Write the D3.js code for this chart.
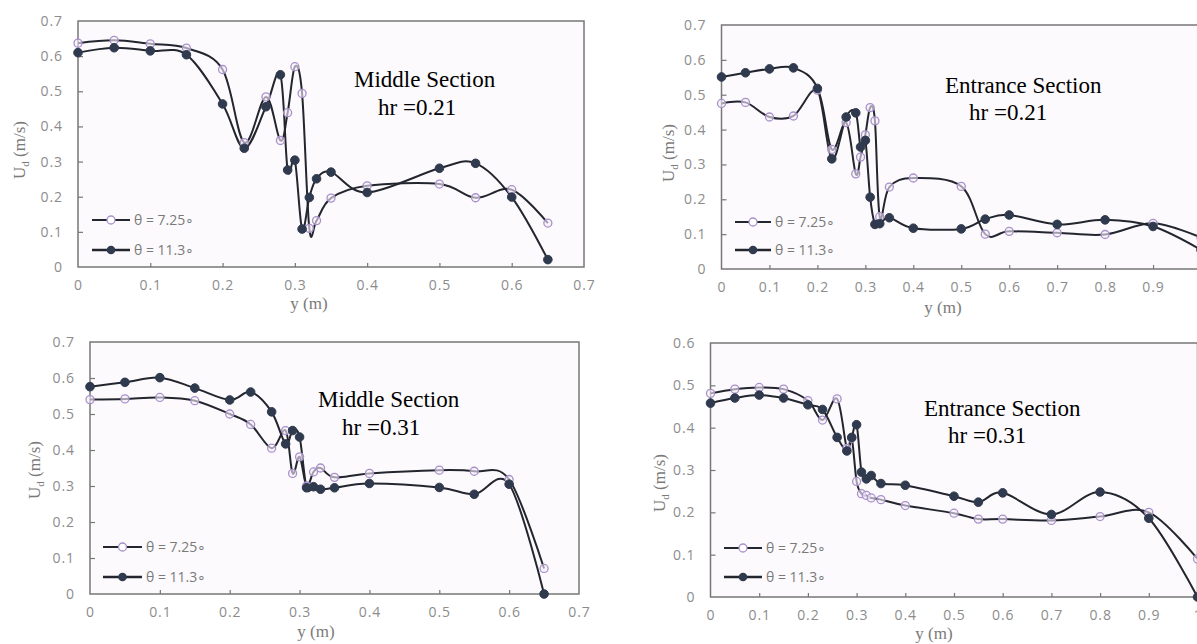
<!DOCTYPE html>
<html><head><meta charset="utf-8">
<script src="https://cdn.jsdelivr.net/npm/d3@7"></script>
<style>
html,body{margin:0;padding:0;background:#fff;overflow:hidden;}
svg{display:block;}
</style></head>
<body><svg id="c" width="1197" height="644"></svg>
<script>
// ---------- data ----------
const xMiddle = [0,0.05,0.1,0.15,0.2,0.23,0.26,0.28,0.29,0.3,0.31,0.32,0.33,0.35,0.4,0.5,0.55,0.6,0.65];
const xEntrance = [0,0.05,0.1,0.15,0.2,0.23,0.26,0.28,0.29,0.3,0.31,0.32,0.33,0.35,0.4,0.5,0.55,0.6,0.7,0.8,0.9,1.0];

const midHr021_725 = [0.637,0.645,0.635,0.623,0.562,0.354,0.484,0.36,0.439,0.57,0.494,0.11,0.132,0.196,0.231,0.236,0.197,0.22,0.125];
const midHr021_113 = [0.61,0.624,0.615,0.604,0.464,0.338,0.456,0.547,0.276,0.304,0.108,0.198,0.251,0.27,0.212,0.281,0.295,0.199,0.021];

const entHr021_725 = [0.475,0.478,0.436,0.439,0.513,0.343,0.42,0.273,0.321,0.385,0.463,0.425,0.15,0.235,0.261,0.237,0.1,0.108,0.104,0.099,0.131,0.09];
const entHr021_113 = [0.551,0.563,0.574,0.577,0.518,0.316,0.436,0.448,0.35,0.369,0.206,0.128,0.13,0.147,0.117,0.115,0.143,0.155,0.128,0.141,0.122,0.055];

const midHr031_725 = [0.54,0.542,0.546,0.537,0.5,0.471,0.405,0.454,0.335,0.381,0.3,0.339,0.35,0.324,0.335,0.344,0.341,0.318,0.071];
const midHr031_113 = [0.576,0.588,0.601,0.572,0.539,0.561,0.506,0.417,0.454,0.436,0.295,0.298,0.291,0.295,0.307,0.296,0.277,0.305,0.0];

const entHr031_725 = [0.481,0.491,0.495,0.491,0.464,0.418,0.468,0.351,0.375,0.273,0.244,0.24,0.234,0.23,0.216,0.198,0.184,0.184,0.181,0.19,0.2,0.09];
const entHr031_113 = [0.458,0.47,0.477,0.47,0.454,0.443,0.377,0.345,0.377,0.407,0.295,0.279,0.287,0.268,0.264,0.238,0.224,0.246,0.195,0.248,0.186,0.0];

const seriesNames = ["\u03b8 = 7.25\u2218", "\u03b8 = 11.3\u2218"];
const xTicksMiddle = [0,0.1,0.2,0.3,0.4,0.5,0.6,0.7];
const xTicksEntrance = [0,0.1,0.2,0.3,0.4,0.5,0.6,0.7,0.8,0.9,1];
const yTicks07 = [0,0.1,0.2,0.3,0.4,0.5,0.6,0.7];
const yTicks06 = [0,0.1,0.2,0.3,0.4,0.5,0.6];
const titles = [["Middle Section","hr =0.21"],["Entrance Section","hr =0.21"],["Middle Section","hr =0.31"],["Entrance Section","hr =0.31"]];

// ---------- layout ----------
const panels = [
  {x:xMiddle, a:midHr021_725, b:midHr021_113, xt:xTicksMiddle, yt:yTicks07, xmax:0.7, ymax:0.7,
   L:78, R:584, T:21, B:267, title:titles[0], tx:354, ty:[87,115], xtl:[309,304], ytl:[19,150],
   leg:{x1:92,x2:130,y:[220,250]}},
  {x:xEntrance, a:entHr021_725, b:entHr021_113, xt:xTicksEntrance, yt:yTicks07, xmax:1.0, ymax:0.7,
   L:721.5, R:1201, T:25, B:269, title:titles[1], tx:945, ty:[93,120], xtl:[943,308], ytl:[668,153],
   leg:{x1:735,x2:771,y:[222,250]}},
  {x:xMiddle, a:midHr031_725, b:midHr031_113, xt:xTicksMiddle, yt:yTicks07, xmax:0.7, ymax:0.7,
   L:90, R:579, T:342, B:594, title:titles[2], tx:318, ty:[407,435], xtl:[316,632], ytl:[34,470],
   leg:{x1:103,x2:142,y:[547,577]}},
  {x:xEntrance, a:entHr031_725, b:entHr031_113, xt:xTicksEntrance, yt:yTicks06, xmax:1.0, ymax:0.6,
   L:710.5, R:1197.5, T:343, B:597, title:titles[3], tx:924, ty:[416,443], xtl:[934,634], ytl:[659,483],
   leg:{x1:724,x2:762,y:[548,577]}}
];

const svg = d3.select("#c");
const fmt = d => d === 0 ? "0" : (d === 1 ? "1" : d3.format(".1f")(d));
const hollowStroke = "#a890cc", lineCol = "#23262e", filledCol = "#2f3a4e";
const tickCol = "#8c8c8c";
const serif = "'Liberation Serif', 'Times New Roman', serif";
const sans = "'Open Sans', sans-serif";

panels.forEach(p => {
  const xs = d3.scaleLinear().domain([0, p.xmax]).range([p.L, p.R]);
  const ys = d3.scaleLinear().domain([0, p.ymax]).range([p.B, p.T]);
  const g = svg.append("g");

  g.append("rect").attr("x", p.L).attr("y", p.T).attr("width", p.R - p.L).attr("height", p.B - p.T)
    .attr("fill", "#fcfafc").attr("stroke", "#777").attr("stroke-width", 1.5);

  const xAxis = d3.axisBottom(xs).tickValues(p.xt).tickSize(-4).tickFormat(fmt).tickPadding(13);
  const gx = g.append("g").attr("transform", `translate(0,${p.B})`).call(xAxis);
  const yAxis = d3.axisLeft(ys).tickValues(p.yt).tickSize(-5).tickFormat(fmt).tickPadding(15);
  const gy = g.append("g").attr("transform", `translate(${p.L},0)`).call(yAxis);
  [gx, gy].forEach(a => {
    a.select(".domain").remove();
    a.selectAll(".tick line").attr("stroke", "#777").attr("stroke-width", 1.2);
    a.selectAll(".tick text").attr("fill", tickCol).attr("font-family", sans)
      .attr("font-size", 14).attr("letter-spacing", "0.9px");
  });
  gy.selectAll(".tick").filter(d => d === p.ymax || d === 0).select("line").remove();
  gx.selectAll(".tick").filter(d => d === 0 || d === p.xmax).select("line").remove();

  // axis titles
  g.append("text").attr("x", p.xtl[0]).attr("y", p.xtl[1] + 5).attr("text-anchor", "middle")
    .attr("font-family", serif).attr("font-size", 17).attr("fill", "#7a7a7a").text("y (m)");
  const yt = g.append("text").attr("transform", `translate(${p.ytl[0] + 6},${p.ytl[1]}) rotate(-90)`)
    .attr("text-anchor", "middle").attr("font-family", serif)
    .attr("font-size", 17).attr("fill", "#7a7a7a");
  yt.append("tspan").text("U");
  yt.append("tspan").attr("font-size", 11).attr("dy", 4).text("d");
  yt.append("tspan").attr("dy", -4).text(" (m/s)");

  // curves
  const line = d3.line().x(d => xs(d[0])).y(d => ys(d[1])).curve(d3.curveCatmullRom.alpha(0));
  const dA = p.x.map((v, i) => [v, p.a[i]]);
  const dB = p.x.map((v, i) => [v, p.b[i]]);
  g.append("path").attr("d", line(dA)).attr("fill", "none").attr("stroke", lineCol).attr("stroke-width", 2);
  g.append("path").attr("d", line(dB)).attr("fill", "none").attr("stroke", lineCol).attr("stroke-width", 2);

  g.selectAll(".ma").data(dA).enter().append("circle")
    .attr("cx", d => xs(d[0])).attr("cy", d => ys(d[1])).attr("r", 4)
    .attr("fill", "#f6f0fa").attr("fill-opacity", 0.6).attr("stroke", hollowStroke).attr("stroke-width", 1.3);
  g.selectAll(".mb").data(dB).enter().append("circle")
    .attr("cx", d => xs(d[0])).attr("cy", d => ys(d[1])).attr("r", 4.3)
    .attr("fill", filledCol).attr("stroke", filledCol).attr("stroke-width", 1);

  // annotation
  g.append("text").attr("x", p.tx).attr("y", p.ty[0]).attr("font-family", serif)
    .attr("font-size", 23).attr("fill", "#000").text(p.title[0]);
  g.append("text").attr("x", p.tx + 24).attr("y", p.ty[1]).attr("font-family", serif)
    .attr("font-size", 23).attr("fill", "#000").text(p.title[1]);

  // legend
  [0, 1].forEach(i => {
    const ly = p.leg.y[i];
    g.append("line").attr("x1", p.leg.x1).attr("x2", p.leg.x2).attr("y1", ly).attr("y2", ly)
      .attr("stroke", lineCol).attr("stroke-width", i === 0 ? 2 : 2.6);
    const mx = (p.leg.x1 + p.leg.x2) / 2;
    if (i === 0) {
      g.append("circle").attr("cx", mx).attr("cy", ly).attr("r", 4).attr("fill", "#fff")
        .attr("stroke", hollowStroke).attr("stroke-width", 1.3);
    } else {
      g.append("circle").attr("cx", mx).attr("cy", ly).attr("r", 4.3).attr("fill", filledCol);
    }
    g.append("text").attr("x", p.leg.x2 + 4).attr("y", ly + 5).attr("font-family", sans)
      .attr("font-size", 14).attr("fill", "#7a7a7a").text(seriesNames[i]);
  });
});
</script></body></html>
